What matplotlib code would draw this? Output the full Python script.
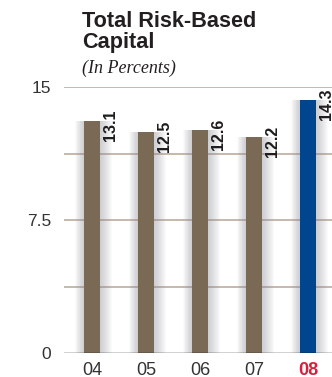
import matplotlib
matplotlib.use("Agg")
import matplotlib.pyplot as plt
from matplotlib.patches import Rectangle

# Data
years = ["04", "05", "06", "07", "08"]
values = [13.1, 12.5, 12.6, 12.2, 14.3]
bar_colors = ["#7a6954", "#7a6954", "#7a6954", "#7a6954", "#00458e"]
ytick_values = [0, 7.5, 15]
ytick_labels = ["0", "7.5", "15"]
grid_values = [3.75, 7.5, 11.25, 15]

W, H = 332, 377
fig = plt.figure(figsize=(W / 100, H / 100), dpi=100)
fig.patch.set_facecolor("white")

px_per_unit_x = 54.0
ax_left_px = 64
first_center_px = 92
ax = fig.add_axes([ax_left_px / W, 23.7 / H, 1 - ax_left_px / W, (353.3 - 87.3) / H])
x0 = -(first_center_px - ax_left_px) / px_per_unit_x
x1 = (W - first_center_px) / px_per_unit_x
ax.set_xlim(x0, x1)
ax.set_ylim(0, 15)
ax.patch.set_alpha(0)

for s in ax.spines.values():
    s.set_visible(False)

# Horizontal gridlines
for g in grid_values:
    ax.axhline(g, color="#b5a697", lw=1.1, zorder=1)
ax.axhline(0, color="#1a1a1a", lw=1.0, zorder=5)

xs = list(range(len(years)))
bar_w = 16 / px_per_unit_x
px = 1 / px_per_unit_x

# Soft shadows on both sides of each bar
n_steps = 12
for x, v in zip(xs, values):
    for k in range(n_steps):
        ext_l = (k + 1) * 0.75 * px
        ext_r = (k + 1) * 1.0 * px
        ax.add_patch(Rectangle((x - bar_w / 2 - ext_l, 0), bar_w + ext_l + ext_r, v,
                               facecolor="#8a8c96", edgecolor="none", alpha=0.04, zorder=2))

ax.bar(xs, values, width=bar_w, color=bar_colors, zorder=3)

# Value labels, rotated, to the right of each bar
for x, v in zip(xs, values):
    ax.annotate(f"{v:.1f}", xy=(x + bar_w / 2, v), xytext=(3, 11),
                textcoords="offset pixels", rotation=90, ha="left", va="top",
                fontsize=11.5, fontweight="bold", color="#1e1c1c",
                family="Liberation Sans", zorder=6)

ax.set_xticks(xs)
ax.set_xticklabels(years, fontsize=13, color="#333333", family="Liberation Sans")
lbls = ax.get_xticklabels()
lbls[-1].set_color("#d8203e")
lbls[-1].set_fontweight("bold")
ax.set_yticks(ytick_values)
ax.set_yticklabels(ytick_labels, fontsize=12.5, color="#333333", family="Liberation Sans")
ax.tick_params(axis="both", length=0)
ax.tick_params(axis="x", pad=6)
ax.tick_params(axis="y", pad=9)

# Title block
fig.text(82 / W, 1 - 27 / H, "Total Risk-Based", fontsize=15.6, fontweight="bold",
         color="#231f20", family="Liberation Sans", va="baseline", ha="left")
fig.text(82 / W, 1 - 48 / H, "Capital", fontsize=15.6, fontweight="bold",
         color="#231f20", family="Liberation Sans", va="baseline", ha="left")
fig.text(82 / W, 1 - 72.5 / H, "(In Percents)", fontsize=13, style="italic",
         color="#231f20", family="Liberation Serif", va="baseline", ha="left")

fig.savefig("out.png", dpi=100, facecolor="white")
